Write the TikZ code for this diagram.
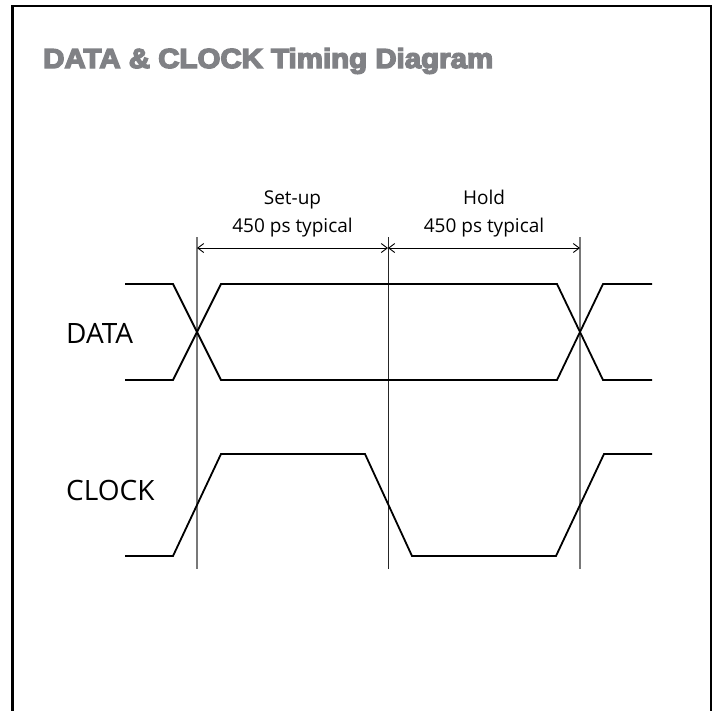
\documentclass[tikz,border=0pt]{standalone}
\usepackage{fontspec}
\setmainfont{Open Sans}
\newfontfamily\titlefont{Liberation Sans}[BoldFeatures={FakeBold=5}]
\usetikzlibrary{arrows.meta}
\definecolor{titlegray}{RGB}{128,129,133}
\definecolor{guidegray}{RGB}{120,120,120}
\begin{document}
\begin{tikzpicture}[x=1pt,y=-1pt,
  frame/.style={line width=2.2pt,black},
  signal/.style={line width=1.8pt,black,line join=miter},
  guide/.style={line width=1.4pt,guidegray},
  guidedark/.style={line width=1pt,black!85},
  dim/.style={line width=0.9pt,black,{Straight Barb[length=6pt,width=9pt]}-{Straight Barb[length=6pt,width=9pt]}},
  lbl/.style={inner sep=0pt,font=\fontsize{28}{34}\selectfont},
  dimlbl/.style={inner sep=0pt,font=\fontsize{19}{22}\selectfont}]
\useasboundingbox (0,0) rectangle (718,710);
\draw[frame] (12.5,712) -- (12.5,6) -- (711,6) -- (711,712);
% title
\node[anchor=base west,inner sep=0pt,text=titlegray] (title) at (43,68)
  {\resizebox{450pt}{20pt}{\titlefont\bfseries DATA \& CLOCK Timing Diagram}};
% guide lines
\coordinate (t1) at (197,237); \coordinate (b1) at (197,569);
\coordinate (t2) at (388,237); \coordinate (b2) at (388,569);
\coordinate (t3) at (580,237); \coordinate (b3) at (580,569);
\draw[guide] (t1) -- (b1);
\draw[guidedark] (t2) -- (b2);
\draw[guide] (t3) -- (b3);
% dimension arrows
\coordinate (d1) at (197,248);
\coordinate (d2) at (388,248);
\coordinate (d3) at (580,248);
\draw[dim] (d1) -- (d2);
\draw[dim] (d2) -- (d3);
\node[dimlbl,anchor=base] (setup) at (292.5,204) {Set-up};
\node[dimlbl,anchor=base] (setupval) at (292.5,232) {450 ps typical};
\node[dimlbl,anchor=base] (hold) at (484,204) {Hold};
\node[dimlbl,anchor=base] (holdval) at (484,232) {450 ps typical};
% labels
\node[lbl,anchor=base west] (data) at (66,343) {DATA};
\node[lbl,anchor=base west] (clock) at (66,500) {CLOCK};
% DATA signal
\draw[signal] (125,284) -- (173,284) -- (221,380) -- (557,380) -- (603,284) -- (652,284);
\draw[signal] (125,380) -- (173,380) -- (221,284) -- (557,284) -- (603,380) -- (652,380);
% CLOCK signal
\draw[signal] (125,556) -- (173,556) -- (221,454) -- (365,454) -- (412,556) -- (556,556) -- (604,454) -- (652,454);
\end{tikzpicture}
\end{document}
